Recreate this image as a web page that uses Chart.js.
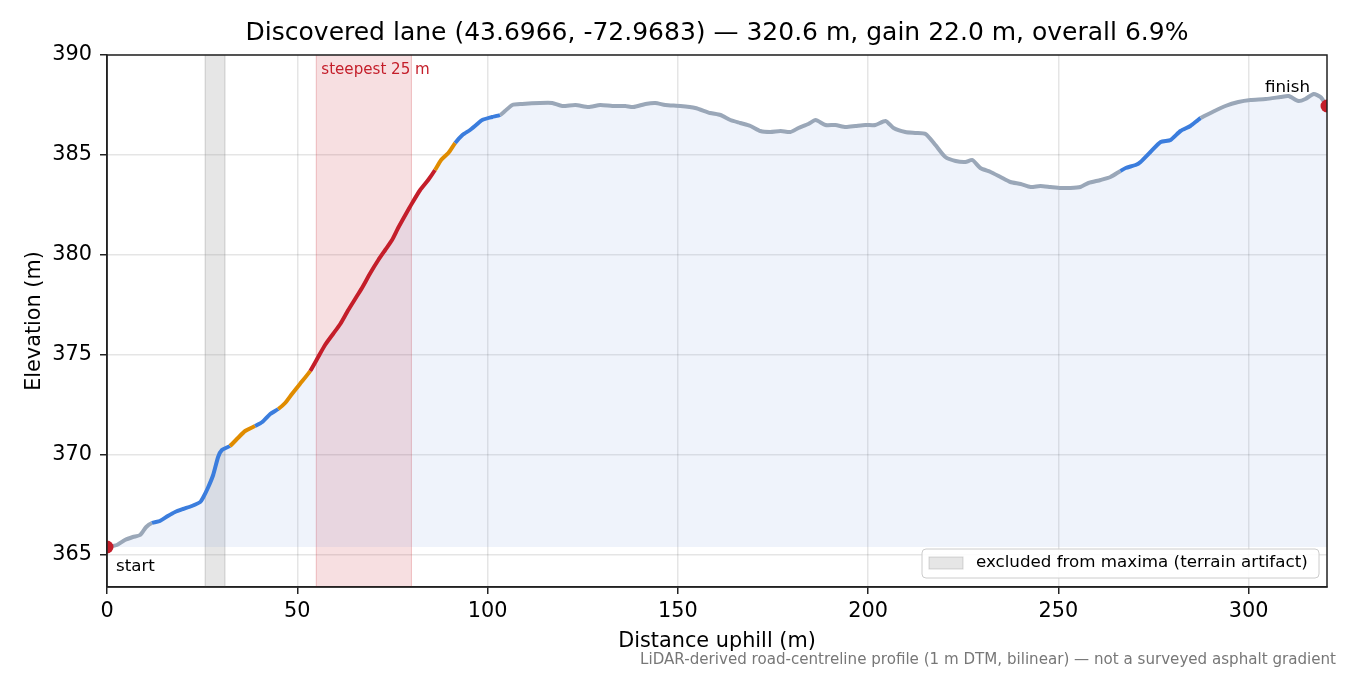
<!DOCTYPE html>
<html>
<head>
<meta charset="utf-8">
<script src="https://cdn.jsdelivr.net/npm/chart.js@4.4.1/dist/chart.umd.min.js"></script>
<style>
  html, body { margin: 0; padding: 0; background: #fff; }
</style>
</head>
<body>
<canvas id="perfil" width="1350" height="675"></canvas>
<script>
const distancias = [0, 2.6, 4.7, 6.8, 8.7, 10.3, 11.8, 13.9, 16.0, 17.9, 20.0, 22.3, 24.5, 25.2, 26.5, 27.9, 29.2, 30.2,
  32.3, 34.4, 36.3, 38.9, 40.8, 42.9, 45.0, 46.8, 48.6, 50.7, 53.4, 55.5, 57.3, 59.4, 61.3, 63.4, 65.2, 67.0,
  69.2, 71.3, 73.1, 74.9, 76.5, 78.4, 80.2, 82.3, 84.4, 86.2, 87.8, 89.7, 91.5, 93.4, 95.4, 97.0, 98.6, 101.2,
  103.3, 104.6, 106.5, 109.1, 113.8, 117.0, 119.6, 123.1, 126.5, 129.6, 132.8, 136.2, 138.3, 141.5, 144.1, 146.7,
  150.7, 154.6, 158.5, 161.2, 163.8, 166.4, 169.1, 171.7, 174.3, 177.0, 179.6, 181.7, 184.3, 186.2, 188.8, 191.4,
  194.1, 196.7, 199.3, 201.9, 204.6, 206.7, 209.8, 212.4, 215.1, 217.7, 220.3, 223.0, 225.6, 227.4, 229.5, 232.2,
  234.8, 237.4, 240.1, 242.7, 245.3, 247.9, 250.6, 253.2, 255.8, 257.9, 261.1, 263.7, 266.3, 267.7, 270.3, 271.6,
  274.2, 276.9, 279.5, 282.1, 284.7, 287.4, 290.5, 293.9, 297.3, 300.5, 304.5, 308.4, 310.5, 313.1, 314.9, 317.1,
  318.9, 320.6];
const elevaciones = [365.40, 365.50, 365.75, 365.90, 366.00, 366.40, 366.60, 366.70, 366.95, 367.15, 367.30, 367.45,
  367.65, 367.85, 368.35, 369.00, 369.90, 370.25, 370.45, 370.85, 371.20, 371.45, 371.65, 372.05, 372.30, 372.60,
  373.05, 373.55, 374.20, 374.90, 375.50, 376.05, 376.55, 377.25, 377.80, 378.35, 379.10, 379.75, 380.25, 380.75,
  381.35, 382.00, 382.60, 383.25, 383.75, 384.25, 384.75, 385.10, 385.60, 386.00, 386.25, 386.50, 386.75, 386.90,
  387.00, 387.20, 387.50, 387.55, 387.60, 387.60, 387.45, 387.50, 387.40, 387.50, 387.45, 387.45, 387.40, 387.55,
  387.60, 387.50, 387.45, 387.35, 387.10, 387.00, 386.75, 386.60, 386.45, 386.20, 386.15, 386.20, 386.15, 386.35,
  386.55, 386.75, 386.50, 386.50, 386.40, 386.45, 386.50, 386.50, 386.70, 386.35, 386.15, 386.10, 386.05, 385.50,
  384.90, 384.70, 384.65, 384.75, 384.35, 384.15, 383.90, 383.65, 383.55, 383.40, 383.45, 383.40, 383.35, 383.35,
  383.40, 383.60, 383.75, 383.90, 384.20, 384.35, 384.50, 384.65, 385.15, 385.65, 385.75, 386.20, 386.45, 386.85,
  387.15, 387.45, 387.65, 387.75, 387.80, 387.90, 387.95, 387.70, 387.80, 388.05, 387.90, 387.45];

// tramos de pendiente: inicio de cada tramo y su clase
const tramosInicio = [0, 11.3, 32.3, 39.7, 44.7, 52.8, 86.8, 90.7, 102.5, 267.0, 287.0];
const tramosClase = ['llano', 'media', 'fuerte', 'media', 'fuerte', 'maxima', 'fuerte', 'media', 'llano', 'media', 'llano'];
const coloresClase = { llano: '#9aa7b8', media: '#3b7ddd', fuerte: '#e08c00', maxima: '#c41e2a' };

const zonaExcluida = [25.8, 31.0];
const zonaEmpinada = [55.0, 80.0];

const ticksX = [0, 50, 100, 150, 200, 250, 300];
const ticksY = [365, 370, 375, 380, 385, 390];

const titulo = 'Discovered lane (43.6966, -72.9683) \u2014 320.6 m, gain 22.0 m, overall 6.9%';
const nota = 'LiDAR-derived road-centreline profile (1 m DTM, bilinear) \u2014 not a surveyed asphalt gradient';

const fuente = 'DejaVu Sans';
Chart.defaults.font.family = fuente;
Chart.defaults.color = '#000';

function claseEn(d) {
  let c = tramosClase[0];
  for (let i = 0; i < tramosInicio.length; i++) {
    if (d >= tramosInicio[i]) c = tramosClase[i];
  }
  return coloresClase[c];
}

const puntos = distancias.map((d, i) => ({ x: d, y: elevaciones[i] }));
const base = Math.min(...elevaciones);
const extremos = [puntos[0], puntos[puntos.length - 1]];

const decoracion = {
  id: 'decoracion',
  beforeDatasetsDraw(chart) {
    const { ctx, chartArea: a, scales: { x } } = chart;
    ctx.save();
    const banda = (r, relleno, borde) => {
      const x0 = x.getPixelForValue(r[0]);
      const x1 = x.getPixelForValue(r[1]);
      ctx.fillStyle = relleno;
      ctx.fillRect(x0, a.top, x1 - x0, a.bottom - a.top);
      ctx.strokeStyle = borde;
      ctx.lineWidth = 1;
      ctx.beginPath();
      ctx.moveTo(x0, a.top); ctx.lineTo(x0, a.bottom);
      ctx.moveTo(x1, a.top); ctx.lineTo(x1, a.bottom);
      ctx.stroke();
    };
    banda(zonaExcluida, 'rgba(128,128,128,0.2)', 'rgba(128,128,128,0.35)');
    banda(zonaEmpinada, 'rgba(200,30,40,0.14)', 'rgba(200,30,40,0.25)');
    ctx.restore();
  },
  afterDraw(chart) {
    const { ctx, chartArea: a, scales: { x } } = chart;
    ctx.save();
    // marco
    ctx.strokeStyle = '#222';
    ctx.lineWidth = 1.5;
    ctx.strokeRect(a.left, a.top, a.right - a.left, a.bottom - a.top);

    ctx.textBaseline = 'middle';
    ctx.fillStyle = '#000';
    ctx.font = '25px "' + fuente + '"';
    ctx.textAlign = 'center';
    ctx.fillText(titulo, (a.left + a.right) / 2, 33);

    ctx.font = '16.7px "' + fuente + '"';
    ctx.textAlign = 'left';
    ctx.fillText('start', x.getPixelForValue(0) + 9, 567);
    ctx.fillText('finish', 1265, 88);

    ctx.fillStyle = '#c41e2a';
    ctx.font = '15.1px "' + fuente + '"';
    ctx.fillText('steepest 25 m', x.getPixelForValue(zonaEmpinada[0]) + 5, 70);

    ctx.fillStyle = '#777';
    ctx.textAlign = 'right';
    ctx.fillText(nota, 1336, 660);

    // leyenda
    const lx = 922, ly = 549, lw = 397, lh = 29;
    ctx.beginPath();
    ctx.roundRect(lx, ly, lw, lh, 4);
    ctx.fillStyle = 'rgba(255,255,255,0.85)';
    ctx.fill();
    ctx.strokeStyle = '#cccccc';
    ctx.lineWidth = 1;
    ctx.stroke();
    ctx.fillStyle = 'rgba(128,128,128,0.2)';
    ctx.fillRect(929, 557, 34, 12);
    ctx.strokeStyle = 'rgba(128,128,128,0.3)';
    ctx.strokeRect(929, 557, 34, 12);
    ctx.fillStyle = '#000';
    ctx.textAlign = 'left';
    ctx.font = '16.7px "' + fuente + '"';
    ctx.fillText('excluded from maxima (terrain artifact)', 976, 563);
    ctx.restore();
  }
};

const lienzo = document.querySelector('#perfil');
new Chart(lienzo, {
  type: 'line',
  data: {
    datasets: [
      {
        label: 'extremos',
        data: extremos,
        showLine: false,
        pointRadius: 6.5,
        pointBackgroundColor: '#c41e2a',
        pointBorderWidth: 0,
        clip: 0,
        order: 0
      },
      {
        label: 'perfil',
        data: puntos,
        borderWidth: 4,
        borderColor: '#9aa7b8',
        fill: false,
        tension: 0.2,
        pointRadius: 0,
        order: 1,
        segment: {
          borderColor: c => claseEn((c.p0.parsed.x + c.p1.parsed.x) / 2)
        }
      },
      {
        label: 'relleno',
        data: puntos,
        borderWidth: 0,
        backgroundColor: 'rgba(70,115,205,0.085)',
        fill: { value: base },
        tension: 0.2,
        pointRadius: 0,
        order: 2
      }
    ]
  },
  options: {
    responsive: false,
    animation: false,
    devicePixelRatio: 1,
    layout: { padding: { left: 0, right: 23, top: 55, bottom: 0 } },
    plugins: { legend: { display: false }, tooltip: { enabled: false } },
    scales: {
      x: {
        type: 'linear',
        min: 0,
        max: 320.6,
        afterFit: s => { s.height = 88; },
        afterBuildTicks: s => { s.ticks = ticksX.map(v => ({ value: v })); },
        grid: { color: 'rgba(0,0,0,0.1)', lineWidth: 1.5, tickColor: '#222', tickLength: 7 },
        border: { display: true, color: '#222', width: 1.5 },
        ticks: { font: { size: 20.8 }, padding: 5, maxRotation: 0, color: '#000' },
        title: { display: true, text: 'Distance uphill (m)', font: { size: 20.8 }, padding: { top: 0, bottom: 21 }, color: '#000' }
      },
      y: {
        min: 363.4,
        max: 390,
        afterFit: s => { s.width = 107; },
        afterBuildTicks: s => { s.ticks = ticksY.map(v => ({ value: v })); },
        grid: { color: 'rgba(0,0,0,0.1)', lineWidth: 1.5, tickColor: '#222', tickLength: 7 },
        border: { display: true, color: '#222', width: 1.5 },
        ticks: { font: { size: 20.8 }, padding: 8, color: '#000' },
        title: { display: true, text: 'Elevation (m)', font: { size: 20.8 }, padding: { top: 22, bottom: 0 }, color: '#000' }
      }
    }
  },
  plugins: [decoracion]
});
</script>
</body>
</html>
